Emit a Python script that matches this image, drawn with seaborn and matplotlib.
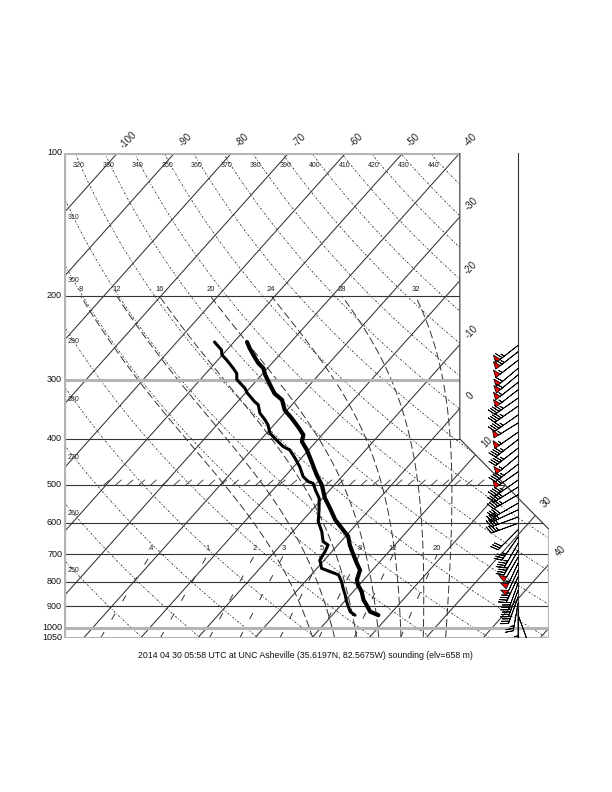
import numpy as np
import pandas as pd
import matplotlib
matplotlib.use("Agg")
import matplotlib.pyplot as plt
import matplotlib.transforms as mtransforms
from matplotlib.patches import Polygon
import seaborn as sns

# ---------------- data ----------------
temp_p = [940, 924, 894, 873, 839, 812, 792, 773, 755, 731, 702, 669, 642, 617, 592,
          560, 533, 500, 476, 447, 422, 405, 392, 377, 362, 348, 331, 321, 308, 293,
          284, 277, 270, 258, 250]
temp_c = [18.1, 16.1, 14.4, 13.1, 11.5, 9.8, 8.8, 8.3, 7.8, 6.2, 4.3, 2.1, 0.5, -1.9, -4.4,
          -7.1, -9.6, -12.2, -14.7, -17.6, -20.3, -22.5, -23.3, -25.5, -27.9, -30.4, -32.5,
          -34.8, -36.9, -39.4, -40.7, -42.4, -43.8, -46.2, -47.7]

dewp_p = [940, 924, 902, 880, 852, 825, 799, 773, 761, 749, 719, 691, 669, 658, 627,
          597, 564, 533, 515, 496, 492, 480, 458, 439, 422, 415, 402, 389, 374, 365,
          353, 339, 334, 320, 313, 300, 291, 284, 273, 266, 260, 250]
dewp_c = [14.0, 12.6, 11.5, 10.4, 9.1, 7.7, 6.4, 4.8, 2.8, 0.8, -0.8, -1.2, -1.7, -3.1, -4.9,
          -7.1, -8.8, -10.6, -12.3, -14.0, -15.1, -16.8, -18.9, -21.1, -23.3, -25.0, -27.2,
          -29.4, -31.0, -32.3, -34.3, -35.9, -37.0, -39.7, -40.8, -43.6, -44.6, -46.0,
          -48.4, -50.1, -50.9, -53.4]

wind_p = [254, 262, 273, 284, 293, 304, 315, 328, 341, 356, 370, 387, 401, 418, 434,
          452, 469, 488, 505, 524, 546, 564, 584, 602, 621, 643, 663, 686, 709, 730,
          755, 780, 804, 832, 860, 885, 915, 940]
wind_dir = [232, 232, 232, 230, 230, 232, 232, 235, 235, 235, 238, 235, 232, 232, 230,
            232, 235, 235, 238, 240, 240, 245, 250, 250, 225, 215, 210, 210, 210, 205,
            205, 205, 200, 200, 200, 190, 180, 160]
wind_kt = [65, 65, 55, 60, 60, 55, 55, 45, 45, 45, 55, 55, 45, 45, 55,
           45, 55, 45, 45, 45, 40, 40, 40, 35, 30, 35, 35, 40, 50, 55,
           50, 45, 40, 40, 35, 25, 15, 10]

isobar_levels = [100, 200, 300, 400, 500, 600, 700, 800, 900, 1000, 1050]
isobar_labels = ["100", "200", "300", "400", "500", "600", "700", "800", "900", "1000", "1050"]
isobar_grey = [100, 300, 1000, 1050]
isotherm_levels = list(range(-110, 51, 10))
isotherm_labeled = [-100, -90, -80, -70, -60, -50, -40, -30, -20, -10, 0, 10, 30, 40]
dry_theta = list(range(250, 441, 10))
moist_thw = [8, 12, 16, 20, 24, 28, 32]
mixr_gkg = [0.4, 1, 2, 3, 5, 8, 12, 20]
mixr_labels = [".4", "1", "2", "3", "5", "8", "12", "20"]
hatch_level = 500
title = "2014 04 30 05:58 UTC at UNC Asheville (35.6197N, 82.5675W) sounding (elv=658 m)"

# ---------------- layout constants ----------------
SKEW = 32.3
XMIN, XMAX = -35.0, 50.0
XTOP = -40 + SKEW * np.log(10.0)        # -40 C isotherm at 100 hPa (top-right corner)
P_CUT_HI, P_CUT_LO = 400.0, 620.0
BARB_X = 44.6
DARK = "#333333"
GREY = "#b4b4b4"


def skx(T, p):
    return np.asarray(T, float) + SKEW * np.log(1000.0 / np.asarray(p, float))


sns.set_theme(style="white")
plt.rcParams["font.family"] = ["Liberation Sans", "DejaVu Sans"]

fig = plt.figure(figsize=(6.12, 7.92), dpi=100)
ax = fig.add_axes([64 / 612, 154 / 792, 485 / 612, 485 / 792])
ax.set_yscale("log")
ax.set_xlim(XMIN, XMAX)
ax.set_ylim(1050, 100)
ax.axis("off")

clip = Polygon([(XMIN, 1050), (XMIN, 100), (XTOP, 100), (XTOP, P_CUT_HI),
                (XMAX, P_CUT_LO), (XMAX, 1050)], closed=True,
               transform=ax.transData, fc="none", ec="none")
ax.add_patch(clip)
clip_disp = clip.get_transform().transform_path(clip.get_path())


def cplot(x, y, **kw):
    ln, = ax.plot(x, y, **kw)
    ln.set_clip_path(clip)
    return ln


# ---- isotherms ----
for T in isotherm_levels:
    ps = np.array([1050.0, 100.0])
    cplot(skx(T, ps), ps, color=DARK, lw=0.75, zorder=2)

lab_tf = mtransforms.offset_copy(ax.transData, fig=fig, x=8.0, y=9.4, units="points")
pp = np.geomspace(100, 1050, 4000)
for T in isotherm_labeled:
    X = skx(T, pp)
    pts = ax.transData.transform(np.column_stack([X, pp]))
    inside = clip_disp.contains_points(pts)
    if inside.any():
        i = np.argmax(inside)
        ax.text(X[i], pp[i], f"{T}", transform=lab_tf, rotation=45, ha="center",
                va="center", fontsize=7, color="#222222")

# ---- dry adiabats ----
pd_ = np.geomspace(1050, 100, 300)
for th in dry_theta:
    Tc = th * (pd_ / 1000.0) ** 0.2857 - 273.15
    X = skx(Tc, pd_)
    cplot(X, pd_, color=DARK, lw=0.6, ls=(0, (2.5, 2, 1, 2)), zorder=2)
    xtop = th * 0.1 ** 0.2857 - 273.15 + SKEW * np.log(10.0)
    if xtop > XMIN:
        ax.text(xtop + 0.6, 106, str(th), ha="center", va="center", fontsize=5,
                color="#222222")
    else:
        plab = np.interp(-33.3, X[::-1], pd_[::-1])
        ax.text(-33.3, plab, str(th), ha="center", va="center", fontsize=5,
                color="#222222")

# ---- moist adiabats ----
Rd, Cp, Lv, EPS = 287.04, 1005.7, 2.501e6, 0.622


def dTdp(T, p):
    es = 6.112 * np.exp(17.67 * (T - 273.15) / (T - 273.15 + 243.5))
    rs = EPS * es / (p - es)
    return (Rd * T + Lv * rs) / (Cp + Lv * Lv * rs * EPS / (Rd * T * T)) / p


def moist(thw, ps):
    T = thw + 273.15
    out = [T]
    for i in range(1, len(ps)):
        p0, p1 = ps[i - 1], ps[i]
        h = p1 - p0
        k1 = dTdp(T, p0)
        k2 = dTdp(T + h * k1 / 2, p0 + h / 2)
        k3 = dTdp(T + h * k2 / 2, p0 + h / 2)
        k4 = dTdp(T + h * k3, p1)
        T = T + h * (k1 + 2 * k2 + 2 * k3 + k4) / 6
        out.append(T)
    return np.array(out) - 273.15


p_up = np.linspace(1000, 200, 321)
p_dn = np.linspace(1000, 1050, 21)
for thw in moist_thw:
    tu = moist(thw, p_up)
    td = moist(thw, p_dn)
    ps = np.concatenate([p_dn[::-1], p_up[1:]])
    ts = np.concatenate([td[::-1], tu[1:]])
    cplot(skx(ts, ps), ps, color=DARK, lw=0.7, ls=(0, (8, 3.5)), zorder=2)
    ax.text(skx(tu[-1], 200), 194, str(thw), ha="center", va="center",
            fontsize=5.5, color="#222222")

# ---- mixing ratio lines ----
pm = np.geomspace(1050, 700, 60)
for w, lab in zip(mixr_gkg, mixr_labels):
    e = (w / 1000.0) * pm / (EPS + w / 1000.0)
    lnr = np.log(e / 6.112)
    td = 243.5 * lnr / (17.67 - lnr)
    cplot(skx(td, pm), pm, color=DARK, lw=0.7, ls=(0, (7, 15)), zorder=2)
    ax.text(skx(td[-1], 700), 680, lab, ha="center", va="center", fontsize=5.5,
            color="#222222")

# ---- isobars ----
for p, lab in zip(isobar_levels, isobar_labels):
    grey = p in isobar_grey
    cplot([XMIN, XMAX], [p, p], color=GREY if grey else DARK,
          lw=2.2 if grey else 0.8, zorder=3 if grey else 2, solid_capstyle="butt")
    ax.text(-0.004, p, lab, transform=ax.get_yaxis_transform(), ha="right",
            va="center", fontsize=6.5, color="#111111")

# 500 hPa hatch marks
for hx in np.arange(-28.0, 38.0, 2.05):
    cplot([hx, hx + 1.0], [hatch_level, hatch_level * 0.976], color=DARK, lw=0.6, zorder=2)

# ---- frame ----
ax.plot([XMIN, XMIN], [1050, 100], color=GREY, lw=2.4, zorder=4, solid_capstyle="butt")
ax.plot([XTOP, XTOP, XMAX], [100, P_CUT_HI, P_CUT_LO], color=DARK, lw=0.8, zorder=4)
ax.plot([XMAX, XMAX], [P_CUT_LO, 1050], color=GREY, lw=2.2, zorder=4,
        solid_capstyle="butt")
ax.plot([BARB_X, BARB_X], [100, 1050], color=DARK, lw=0.8, zorder=4)

# ---- profiles ----
df_t = pd.DataFrame({"X": skx(temp_c, temp_p), "p": temp_p})
df_d = pd.DataFrame({"X": skx(dewp_c, dewp_p), "p": dewp_p})
sns.lineplot(data=df_d, x="X", y="p", sort=False, estimator=None, ax=ax,
             color="black", lw=2.2, zorder=6)
sns.lineplot(data=df_t, x="X", y="p", sort=False, estimator=None, ax=ax,
             color="black", lw=3.0, zorder=6)

# ---- wind barbs ----
wd = np.radians(np.asarray(wind_dir, float))
ws = np.asarray(wind_kt, float)
u = -ws * np.sin(wd)
v = -ws * np.cos(wd)
ax.barbs(np.full(len(wind_p), BARB_X), wind_p, u, v, length=6.4, pivot="tip",
         barbcolor="black", flagcolor="red", linewidth=0.6,
         sizes=dict(spacing=0.09, height=0.26, width=0.2), zorder=7)

ax.set_xlim(XMIN, XMAX)
ax.set_ylim(1050, 100)
ax.axis("off")

fig.text(305 / 612, 1 - 656 / 792, title, ha="center", va="center", fontsize=6.3,
         color="#111111")

fig.savefig("out.png", dpi=100)
